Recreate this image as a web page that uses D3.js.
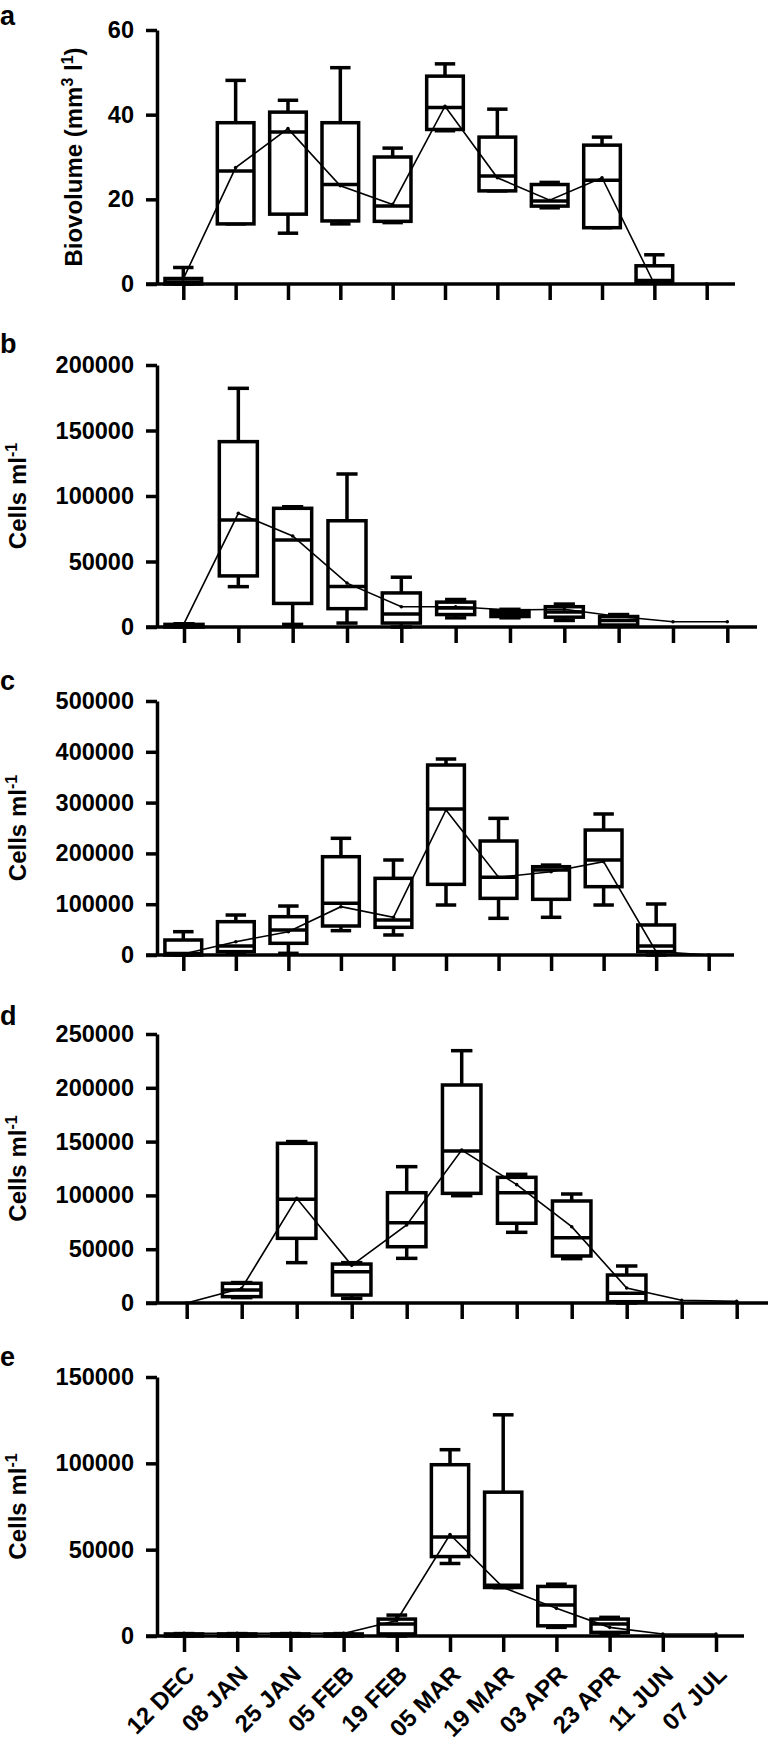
<!DOCTYPE html>
<html>
<head>
<meta charset="utf-8">
<script src="https://cdn.jsdelivr.net/npm/d3@7/dist/d3.min.js"></script>
<style>
  html, body { margin: 0; padding: 0; background: #fff; }
  svg { display: block; }
  text { font-family: "Liberation Sans", Arial, sans-serif; font-weight: bold; fill: #000; }
</style>
</head>
<body>
<svg id="chart" width="768" height="1749"></svg>
<script>
// ---------------- DATA ----------------
const dates = ["12 DEC","08 JAN","25 JAN","05 FEB","19 FEB","05 MAR","19 MAR","03 APR","23 APR","11 JUN","07 JUL"];

// Panel a: Biovolume (mm3 l-1)
const aMin  = [0,    14.2, 12.0, 14.2, 14.5, 36.2, 22.0, 18.0, 13.3, 0.2,  null];
const aQ1   = [0,    14.2, 16.5, 14.9, 14.8, 36.5, 22.0, 18.4, 13.3, 0.3,  null];
const aMed  = [0.5,  26.7, 35.9, 23.5, 18.4, 41.7, 25.5, 19.6, 24.5, 0.8,  null];
const aQ3   = [1.3,  38.1, 40.6, 38.1, 30.0, 49.1, 34.7, 23.5, 32.8, 4.3,  null];
const aMax  = [3.9,  48.1, 43.4, 51.1, 32.1, 52.0, 41.3, 24.0, 34.7, 6.9,  null];
const aMean = [1.2,  27.5, 36.7, 23.2, 18.8, 42.0, 25.1, 19.8, 25.1, 0.0,  0.0];
const aTicks = [0, 20, 40, 60];

// Panel b: Cells ml-1
const bMin  = [0,    30800, 2000,  3000,  0,     7000,  7000,  5000,  500,   null, null];
const bQ1   = [0,    39000, 18000, 14000, 3000,  9500,  8000,  7500,  1500,  null, null];
const bMed  = [800,  81700, 66400, 31000, 10000, 14500, 10500, 11500, 5000,  null, null];
const bQ3   = [2000, 141500,90600, 81100, 26000, 19000, 12500, 15500, 8000,  null, null];
const bMax  = [2500, 182200,91800, 116800,38000, 21000, 13500, 17500, 9500,  null, null];
const bMean = [2500, 86800, 69500, 33500, 15500, 15500, 13000, 13500, 8000,  4000, 4000];
const bTicks = [0, 50000, 100000, 150000, 200000];

// Panel c: Cells ml-1
const cMin  = [0,     3300,  3300,  47900,  39400,  98400,  72200,  74200,  98400,  0,      null];
const cQ1   = [0,     6600,  23000, 57100,  54500,  139100, 111500, 109600, 134500, 6600,   null];
const cMed  = [3000,  17700, 49200, 101700, 68900,  287400, 152900, 167300, 187000, 17700,  null];
const cQ3   = [29500, 65600, 75400, 193500, 150900, 374000, 224400, 173800, 246000, 59100,  null];
const cMax  = [45900, 78700, 96400, 229700, 187000, 385800, 269000, 177000, 277600, 100400, null];
const cMean = [2000,  26200, 45900, 95100,  74200,  285400, 153000, 164000, 183700, 6600,   0];
const cTicks = [0, 100000, 200000, 300000, 400000, 500000];

// Panel d: Cells ml-1
const dMin  = [null, 5000,  37500,  4300,  41500,  99700,  65700,  41200,  0,     null, null];
const dQ1   = [null, 5900,  60100,  7400,  52300,  101900, 74100,  43700,  1200,  null, null];
const dMed  = [null, 12000, 96400,  29100, 74600,  141300, 102500, 60700,  9000,  null, null];
const dQ3   = [null, 18300, 148400, 36200, 102500, 202600, 116800, 94800,  26000, null, null];
const dMax  = [null, 19000, 150000, 37500, 126700, 234500, 119600, 101300, 34400, null, null];
const dMean = [0,    13700, 97300,  35000, 72500,  142200, 110000, 70900,  14000, 2500, 1500];
const dTicks = [0, 50000, 100000, 150000, 200000, 250000];

// Panel e: Cells ml-1
const eMin  = [0,    0,    0,    0,    0,     42000,  28000,  5000,  1500,  null, null];
const eQ1   = [0,    0,    0,    0,    1200,  46000,  28100,  5900,  2100,  null, null];
const eMed  = [500,  500,  500,  500,  7000,  57300,  29400,  17900, 6900,  null, null];
const eQ3   = [1200, 1200, 1200, 1200, 9800,  99200,  83300,  28700, 9800,  null, null];
const eMax  = [1400, 1400, 1400, 1400, 12100, 107900, 128100, 30000, 10800, null, null];
const eMean = [1500, 1500, 1500, 1500, 9000,  58800,  28100,  16000, 5000,  1200, 1200];
const eTicks = [0, 50000, 100000, 150000];

// ---------------- LAYOUT ----------------
const panels = [
  {letter:"a", letterY:25,   top:30,   bottom:284,  x0:183.3, x1:706.7, xEnd:735, max:60,     ticks:aTicks, stats:[aMin,aQ1,aMed,aQ3,aMax], mean:aMean, bio:true},
  {letter:"b", letterY:353,  top:365,  bottom:627,  x0:184,   x1:727.3, xEnd:757, max:200000, ticks:bTicks, stats:[bMin,bQ1,bMed,bQ3,bMax], mean:bMean},
  {letter:"c", letterY:690,  top:701,  bottom:955,  x0:183.3, x1:708.7, xEnd:734, max:500000, ticks:cTicks, stats:[cMin,cQ1,cMed,cQ3,cMax], mean:cMean},
  {letter:"d", letterY:1025, top:1034, bottom:1303, x0:186.7, x1:736.7, xEnd:768, max:250000, ticks:dTicks, stats:[dMin,dQ1,dMed,dQ3,dMax], mean:dMean},
  {letter:"e", letterY:1366, top:1377, bottom:1636, x0:184,   x1:716,   xEnd:744, max:150000, ticks:eTicks, stats:[eMin,eQ1,eMed,eQ3,eMax], mean:eMean, labels:true}
];

const svg = d3.select("#chart");
const axisW = 3.5, boxW = 3.5;

panels.forEach(p => {
  const g = svg.append("g");
  const x = d3.scaleLinear().domain([0, dates.length - 1]).range([p.x0, p.x1]);
  const y = d3.scaleLinear().domain([0, p.max]).range([p.bottom, p.top]);
  const step = x(1) - x(0);
  const bw = step * 0.70, cw = step * 0.39;
  const yAxisX = 157;

  // panel letter
  g.append("text").attr("x", 0).attr("y", p.letterY)
    .style("font-size", "27px").text(p.letter);

  // y axis
  const ya = g.append("g").attr("transform", `translate(${yAxisX},0)`)
    .call(d3.axisLeft(y).tickValues(p.ticks).tickSize(11).tickSizeOuter(0).tickPadding(12).tickFormat(d3.format("d")));
  ya.select(".domain").attr("stroke", "#000").attr("stroke-width", axisW);
  ya.selectAll(".tick line").attr("stroke", "#000").attr("stroke-width", axisW);
  ya.selectAll(".tick text").style("font-size", "23.5px").style("font-family", "'Liberation Sans', Arial, sans-serif").style("font-weight", "bold").attr("fill", "#000");

  // x axis ticks
  const xa = g.append("g").attr("transform", `translate(0,${p.bottom})`)
    .call(d3.axisBottom(x).tickValues(d3.range(dates.length)).tickSize(16).tickFormat(""));
  xa.select(".domain").remove();
  xa.selectAll(".tick line").attr("stroke", "#000").attr("stroke-width", axisW);
  g.append("line").attr("x1", 146).attr("x2", p.xEnd)
    .attr("y1", p.bottom).attr("y2", p.bottom)
    .attr("stroke", "#000").attr("stroke-width", axisW);

  // y label
  if (p.bio) {
    const t = g.append("text").attr("text-anchor", "middle")
      .attr("transform", `translate(82,${(p.top + p.bottom) / 2}) rotate(-90)`)
      .style("font-size", "24px");
    t.append("tspan").text("Biovolume (mm");
    t.append("tspan").attr("dy", -9).style("font-size", "16px").text("3");
    t.append("tspan").attr("dy", 9).text(" l");
    t.append("tspan").attr("dy", -9).style("font-size", "16px").text("1");
    t.append("tspan").attr("dy", 9).text(")");
  } else {
    const t = g.append("text").attr("text-anchor", "middle")
      .attr("transform", `translate(26,${(p.top + p.bottom) / 2}) rotate(-90)`)
      .style("font-size", "24px");
    t.append("tspan").text("Cells ml");
    t.append("tspan").attr("dy", -9).style("font-size", "16px").text("-1");
  }

  // boxes
  const [mn, q1, md, q3, mx] = p.stats;
  const idx = d3.range(dates.length).filter(i => q1[i] !== null);
  const bg = g.append("g").attr("stroke", "#000").attr("stroke-width", boxW).attr("fill", "none");
  idx.forEach(i => {
    const cx = x(i);
    bg.append("line").attr("x1", cx).attr("x2", cx).attr("y1", y(q3[i])).attr("y2", y(mx[i]));
    bg.append("line").attr("x1", cx - cw / 2).attr("x2", cx + cw / 2).attr("y1", y(mx[i])).attr("y2", y(mx[i]));
    bg.append("line").attr("x1", cx).attr("x2", cx).attr("y1", y(q1[i])).attr("y2", y(mn[i]));
    bg.append("line").attr("x1", cx - cw / 2).attr("x2", cx + cw / 2).attr("y1", y(mn[i])).attr("y2", y(mn[i]));
    bg.append("rect").attr("x", cx - bw / 2).attr("width", bw)
      .attr("y", y(q3[i])).attr("height", Math.max(0, y(q1[i]) - y(q3[i])))
      .attr("fill", "#fff");
    bg.append("line").attr("x1", cx - bw / 2).attr("x2", cx + bw / 2).attr("y1", y(md[i])).attr("y2", y(md[i]));
  });

  // mean line
  const line = d3.line().x((d, i) => x(i)).y(d => y(d));
  g.append("path").datum(p.mean).attr("d", line)
    .attr("fill", "none").attr("stroke", "#000").attr("stroke-width", 1.6);
  g.selectAll(".pt").data(p.mean).enter().append("circle")
    .attr("cx", (d, i) => x(i)).attr("cy", d => y(d)).attr("r", 1.8).attr("fill", "#000");

  // x labels
  if (p.labels) {
    g.selectAll(".xl").data(dates).enter().append("text")
      .attr("text-anchor", "end")
      .attr("transform", (d, i) => `translate(${x(i) + 12},${p.bottom + 40}) rotate(-45)`)
      .style("font-size", "24px")
      .text(d => d);
  }
});
</script>
</body>
</html>
